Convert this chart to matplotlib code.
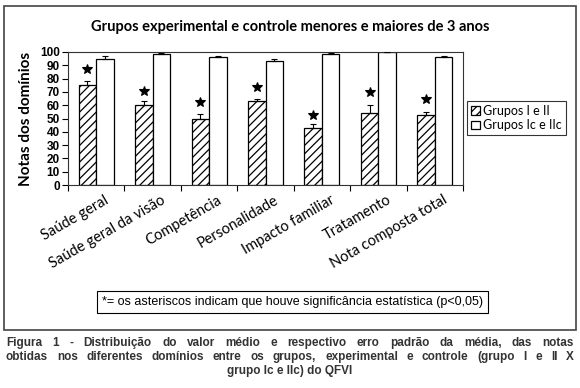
import numpy as np
import matplotlib.pyplot as plt
from matplotlib.patches import Rectangle

# values
categories = ['Saúde geral', 'Saúde geral da visão', 'Competência', 'Personalidade',
              'Impacto familiar', 'Tratamento', 'Nota composta total']
grupo_exp = [75.0, 60.0, 49.7, 63.0, 43.2, 54.5, 52.8]
grupo_exp_err = [3.0, 3.5, 3.8, 2.0, 2.3, 6.0, 2.0]
grupo_ctl = [94.7, 98.5, 96.2, 93.0, 98.5, 100.0, 96.2]
grupo_ctl_err = [2.5, 0.5, 0.8, 1.7, 0.5, 0.0, 0.5]
asterisco_y = [87.0, 71.0, 62.5, 73.5, 52.8, 69.6, 64.6]
yticks = list(range(0, 101, 10))

W, H = 580, 388
plt.rcParams['hatch.linewidth'] = 0.9

fig = plt.figure(figsize=(W / 100, H / 100), dpi=100)

def fx(px):
    return px / W

def fy(py):
    return 1 - py / H

# outer frame
fig.patches.append(Rectangle((fx(4), fy(330)), fx(576) - fx(4), fy(6) - fy(330),
                             transform=fig.transFigure, fill=False,
                             edgecolor='#444444', linewidth=1.2))

ax = fig.add_axes([fx(68), fy(185), fx(463) - fx(68), fy(52) - fy(185)])

x = np.arange(len(categories))
bw = 0.31
b1 = ax.bar(x - bw / 2, grupo_exp, bw, color='white', edgecolor='black',
            hatch='////', linewidth=0.9, label='Grupos I e II', zorder=2)
b2 = ax.bar(x + bw / 2, grupo_ctl, bw, color='white', edgecolor='black',
            linewidth=0.9, label='Grupos Ic e IIc', zorder=2)
ax.errorbar(x - bw / 2, grupo_exp, yerr=[np.zeros(len(x)), grupo_exp_err],
            fmt='none', ecolor='black', elinewidth=0.8, capsize=2.5, capthick=0.8, zorder=3)
ax.errorbar(x + bw / 2, grupo_ctl, yerr=[np.zeros(len(x)), grupo_ctl_err],
            fmt='none', ecolor='black', elinewidth=0.8, capsize=2.5, capthick=0.8, zorder=3)
ax.plot(x - bw / 2, asterisco_y, linestyle='none', marker='*', markersize=7,
        color='black', markeredgewidth=0.8, zorder=4)

ax.set_xlim(-0.5, len(x) - 0.5)
ax.set_ylim(0, 100)
ax.set_yticks(yticks)
ax.set_yticklabels([str(v) for v in yticks], fontsize=8.5, fontweight='bold',
                   family='Liberation Sans')
ax.set_xticks(np.arange(-0.5, len(x), 1.0))
ax.set_xticklabels([])
ax.tick_params(axis='both', direction='out', length=4, width=0.8, pad=2)
for s in ax.spines.values():
    s.set_linewidth(0.8)
    s.set_color('#333333')

for i, lab in enumerate(categories):
    ax.annotate(lab, xy=(i, 0), xycoords=('data', 'axes fraction'),
                xytext=(8, -8), textcoords='offset pixels',
                rotation=30, ha='right', va='top', rotation_mode='anchor',
                fontsize=10.5, family='Lato')

ax.set_ylabel('Notas dos domínios', fontsize=11, fontweight='bold',
              family='Lato', labelpad=5)

fig.text(0.5, fy(27), 'Grupos experimental e controle menores e maiores de 3 anos',
         ha='center', va='center', fontsize=10.5, fontweight='bold', family='Lato')

leg = fig.legend(handles=[b1, b2], loc='center left',
                 bbox_to_anchor=(fx(467), fy(118)), frameon=True, fancybox=False,
                 edgecolor='black', prop={'family': 'Lato', 'size': 9},
                 handlelength=0.7, handleheight=0.7, handletextpad=0.3,
                 borderpad=0.3, labelspacing=0.2, borderaxespad=0)
leg.get_frame().set_linewidth(0.8)

fig.text(fx(292), fy(302),
         '*= os asteriscos indicam que houve significância estatística (p<0,05)',
         ha='center', va='center', fontsize=9, family='Liberation Sans',
         bbox=dict(boxstyle='square,pad=0.4', facecolor='white',
                   edgecolor='black', linewidth=0.8))

# caption below the frame, justified like the original
caption = [
    'Figura 1 - Distribuição do valor médio e respectivo erro padrão da média, das notas',
    'obtidas nos diferentes domínios entre os grupos, experimental e controle (grupo I e II X',
]
last_line = 'grupo Ic e IIc) do QFVI'
cap_kw = dict(fontsize=8.5, fontweight='bold', family='Liberation Sans', color='#333333',
              va='center')
renderer = fig.canvas.get_renderer()
left, right = 6, 574
for k, line in enumerate(caption):
    words = line.split()
    arts = [fig.text(0, fy(343 + 14 * k), w, ha='left', **cap_kw) for w in words]
    widths = [a.get_window_extent(renderer).width for a in arts]
    gap = (right - left - sum(widths)) / (len(words) - 1)
    pos = left
    for a, w in zip(arts, widths):
        a.set_x(fx(pos))
        pos += w + gap
fig.text(0.5, fy(371), last_line, ha='center', **cap_kw)

fig.savefig('out.png', dpi=100)
